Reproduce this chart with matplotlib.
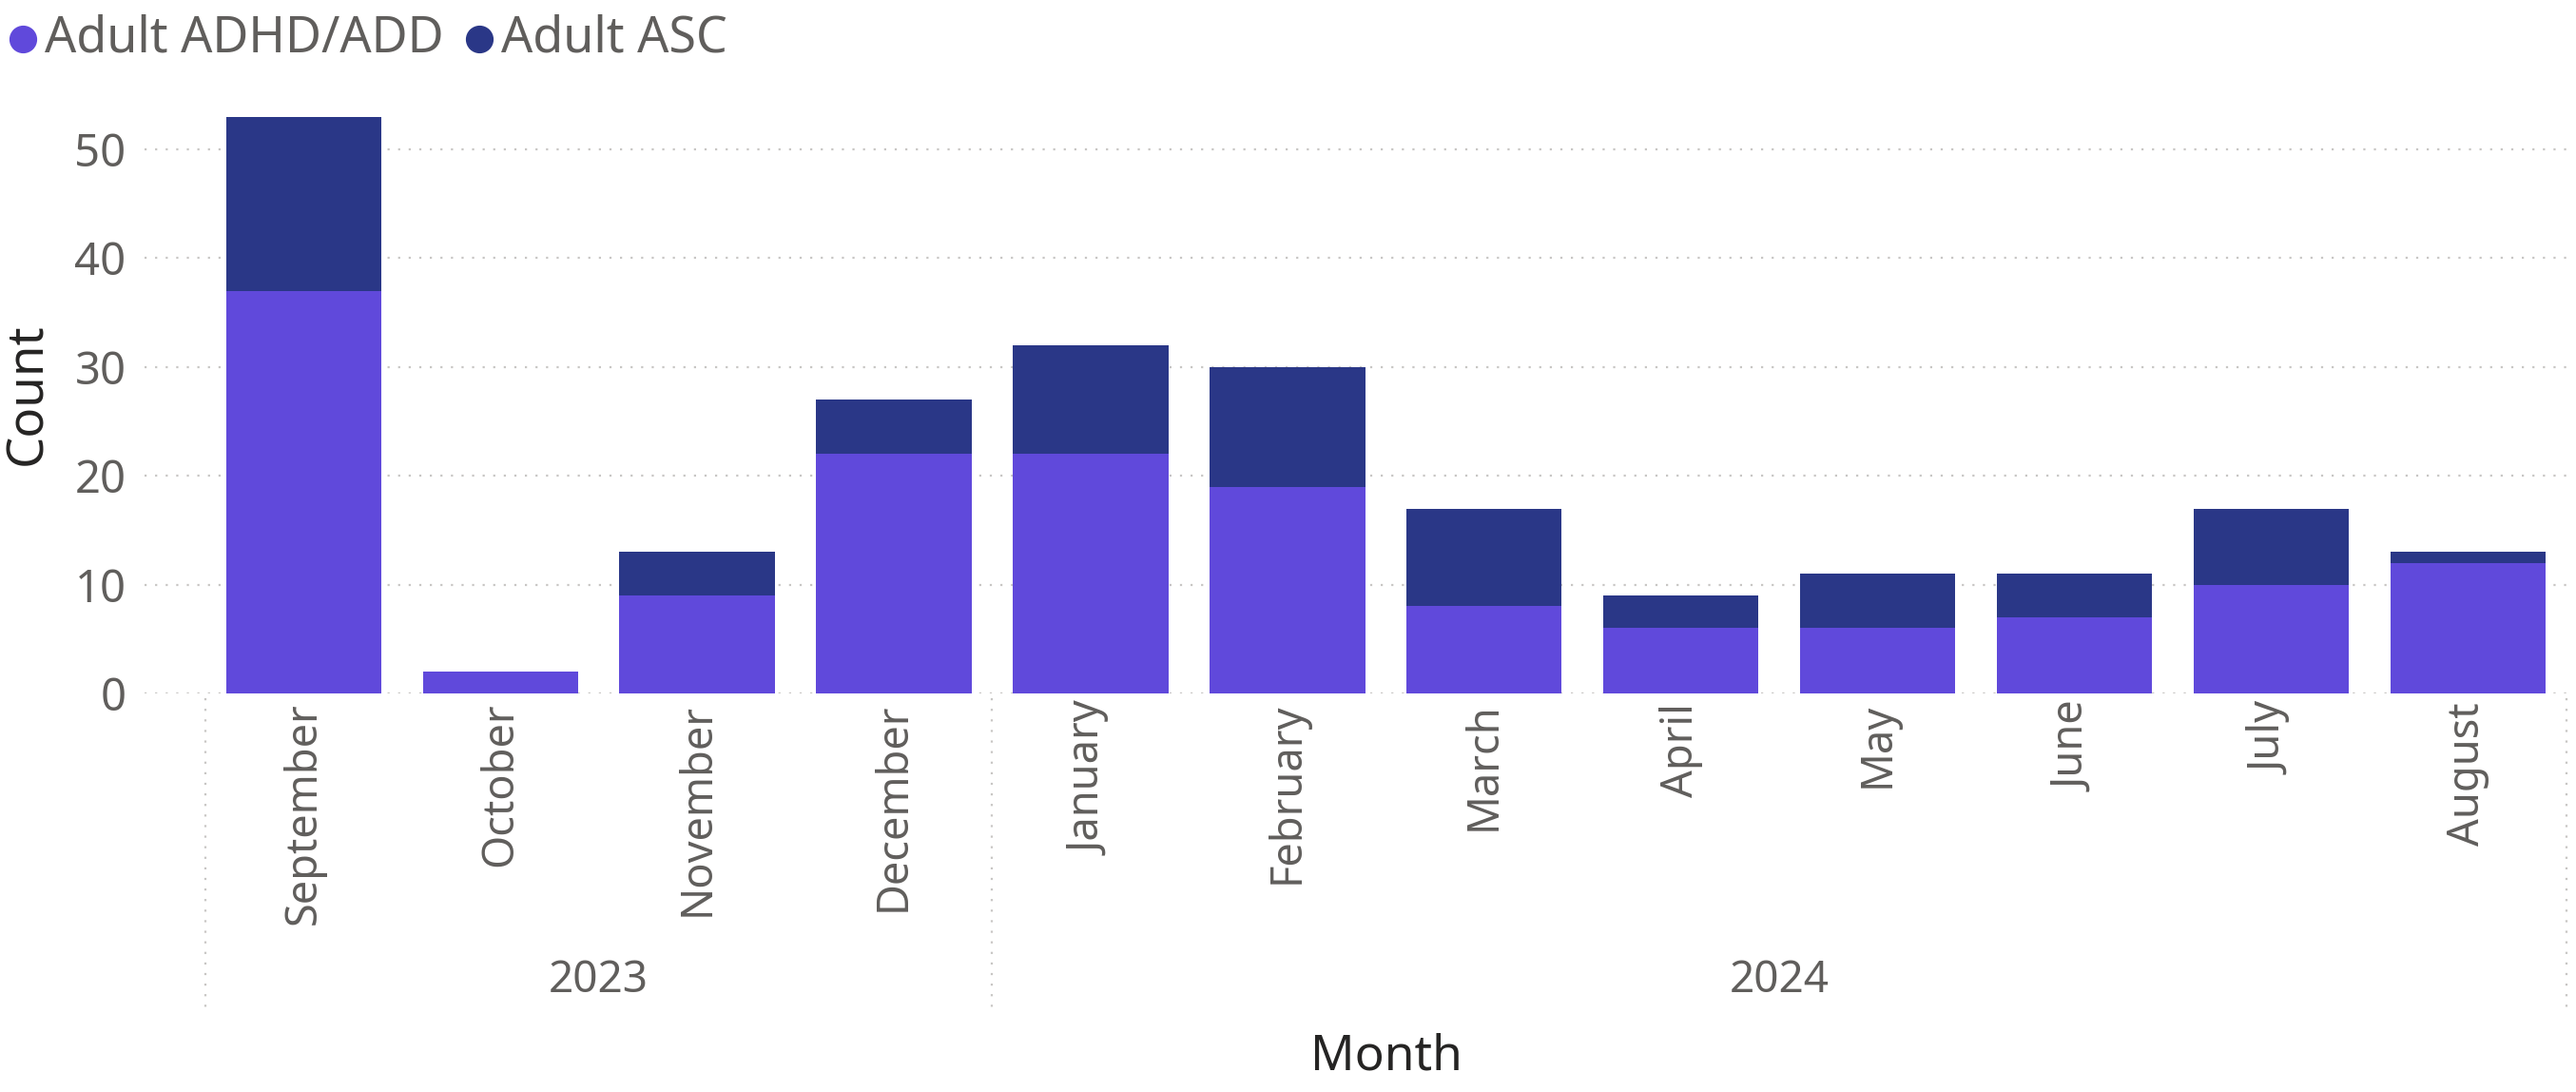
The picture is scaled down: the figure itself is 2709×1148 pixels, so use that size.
import matplotlib
matplotlib.use("Agg")
import matplotlib.pyplot as plt
from matplotlib.lines import Line2D
import numpy as np

##########################

months = ["September", "October", "November", "December", "January", "February",
          "March", "April", "May", "June", "July", "August"]
years = ["2023", "2024"]
months_per_year = [4, 8]
adhd = [37, 2, 9, 22, 22, 19, 8, 6, 6, 7, 10, 12]
asc = [16, 0, 4, 5, 10, 11, 9, 3, 5, 4, 7, 1]
series_names = ["Adult ADHD/ADD", "Adult ASC"]

##########################

c_adhd = "#6049DB"
c_asc = "#2A3787"
c_tick = "#605E5C"
c_title = "#252423"
c_grid = "#C8C6C4"

plt.rcParams["font.family"] = ["Noto Sans", "DejaVu Sans"]

fig = plt.figure(figsize=(27.09, 11.48), dpi=100)
ax = fig.add_axes([0.0561, 0.365, 0.942, 0.548])

x = np.arange(len(months))
ax.bar(x, adhd, width=0.79, color=c_adhd, zorder=3)
ax.bar(x, asc, width=0.79, bottom=adhd, color=c_asc, zorder=3)

ax.set_xlim(-0.809, 11.525)
ax.set_ylim(0, 55)
ax.set_yticks(np.arange(0, 60, 10))
for yv in np.arange(0, 60, 10):
    ax.axhline(yv, color=c_grid, lw=1.6, ls=(0, (1, 4)), zorder=1)

for s in ax.spines.values():
    s.set_visible(False)
ax.tick_params(axis="y", length=0, pad=14, labelsize=34, labelcolor=c_tick)
ax.set_xticks(x)
ax.set_xticklabels(months, rotation=90, va="top", ha="center")
ax.tick_params(axis="x", length=0, pad=7, labelsize=32.5, labelcolor=c_tick)

ax.set_ylabel("Count", fontsize=38, color=c_title, labelpad=16)

# year groups and separators under the month labels
start = -0.5
for yr, n in zip(years, months_per_year):
    ax.text(start + n / 2, -0.48, yr, transform=ax.get_xaxis_transform(),
            ha="center", va="center", fontsize=33, color=c_tick)
    start += n
bounds = np.concatenate([[-0.5], -0.5 + np.cumsum(months_per_year)])
for b in bounds:
    ax.plot([b, b], [-0.008, -0.531], transform=ax.get_xaxis_transform(),
            color=c_grid, lw=1.6, ls=(0, (1, 4)), clip_on=False)

fig.text(0.5382, 0.032, "Month", ha="center", va="center", fontsize=37, color=c_title)

# legend
for cx, tx, name, col in zip([0.0089, 0.186], [0.0173, 0.1945], series_names, [c_adhd, c_asc]):
    fig.add_artist(Line2D([cx], [0.964], marker="o", markersize=20, color=col,
                          transform=fig.transFigure))
    fig.text(tx, 0.964, name, ha="left", va="center", fontsize=37.5, color=c_tick)

fig.savefig("out.png", dpi=100)
